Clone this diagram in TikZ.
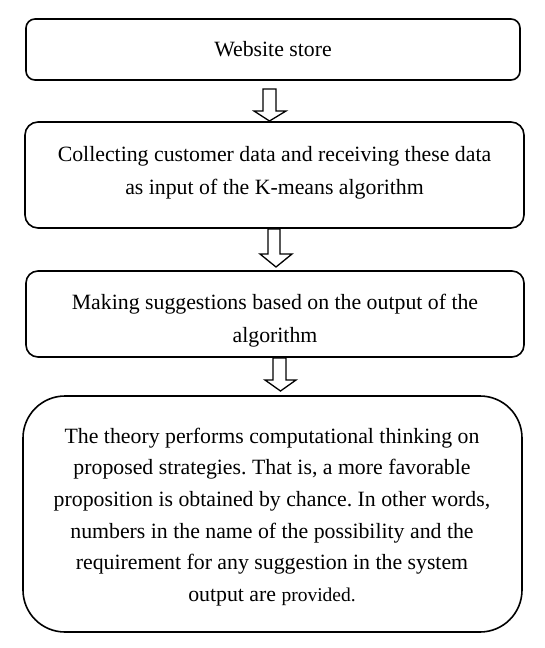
\documentclass[tikz,border=0pt]{standalone}
\usepackage{fontspec}
\setmainfont{Liberation Serif}
\frenchspacing
\begin{document}
\begin{tikzpicture}[x=1pt,y=-1pt,
  boxline/.style={draw=black,line width=1.6pt},
  txt/.style={align=center,font=\fontsize{21.8}{33}\selectfont,inner sep=0pt},
  hollow/.style={draw=black,line width=1.3pt,fill=white,line join=miter}]
\useasboundingbox (0,0) rectangle (544,648);
\draw[boxline,rounded corners=9pt] (26,19) rectangle (520,80);
\node[txt] (t1) at (273,49) {Website store};
\draw[boxline,rounded corners=13pt] (25,122) rectangle (524,228);
\node[txt] (t2) at (274.5,172.5) {Collecting customer data and receiving these data\\as input of the K-means algorithm};
\draw[boxline,rounded corners=12pt] (26,271) rectangle (524,357);
\node[txt] (t3) at (275,320.5) {Making suggestions based on the output of the\\algorithm};
\draw[boxline,rounded corners=42pt] (23,396) rectangle (522,632);
\node[txt,font=\fontsize{21.8}{31.7}\selectfont] (t4) at (272,517) {The theory performs computational thinking on\\proposed strategies. That is, a more favorable\\proposition is obtained by chance. In other words,\\numbers in the name of the possibility and the\\requirement for any suggestion in the system\\output are {\fontsize{19.5}{31.7}\selectfont provided.}};
% arrows
\draw[hollow] (263,89) -- (276,89) -- (276,111) -- (286,111) -- (269.5,121) -- (254,111) -- (263,111) -- cycle;
\draw[hollow] (268,229) -- (280,229) -- (280,254) -- (292,254) -- (276,267) -- (260,254) -- (268,254) -- cycle;
\draw[hollow] (273,358) -- (286,358) -- (286,380) -- (296,380) -- (280.5,391) -- (265,380) -- (273,380) -- cycle;
\end{tikzpicture}
\end{document}
